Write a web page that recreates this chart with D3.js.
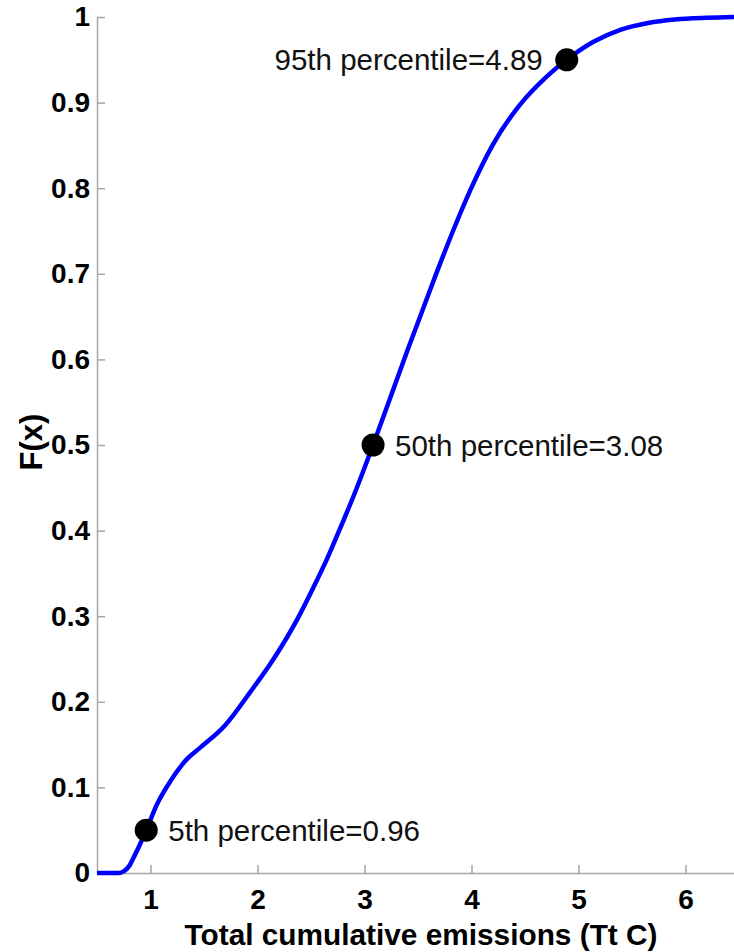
<!DOCTYPE html>
<html>
<head>
<meta charset="utf-8">
<script src="https://cdn.jsdelivr.net/npm/d3@7"></script>
<style>
  html, body { margin: 0; padding: 0; background: #fff; overflow: hidden; }
  svg { display: block; font-family: "Liberation Sans", Arial, Helvetica, sans-serif; }
</style>
</head>
<body>
<svg id="chart" width="734" height="952"></svg>
<script>
// Empirical CDF of total cumulative emissions (Tt C)
const emissions = [0.5, 0.7, 0.75, 0.8, 0.85, 0.9, 0.96, 1.06, 1.19, 1.34, 1.47, 1.7, 1.93, 2.15, 2.37, 2.52, 2.65, 2.77, 2.9, 3.08, 3.24, 3.4, 3.55, 3.71, 3.85, 3.99, 4.2, 4.45, 4.7, 4.89, 5.14, 5.39, 5.65, 5.9, 6.2, 6.5];
const cdf = [0, 0, 0.002, 0.008, 0.02, 0.033, 0.05, 0.08, 0.108, 0.133, 0.147, 0.173, 0.211, 0.25, 0.296, 0.333, 0.367, 0.402, 0.441, 0.5, 0.555, 0.61, 0.66, 0.713, 0.757, 0.798, 0.851, 0.897, 0.93, 0.95, 0.971, 0.985, 0.993, 0.997, 0.999, 1.0];

// Marked percentiles
const pctNames = ["5th", "50th", "95th"];
const pctLevels = [0.05, 0.5, 0.95];
const pctValues = [0.96, 3.08, 4.89];

// Axis ticks
const xTicks = [1, 2, 3, 4, 5, 6];
const yTicks = [0, 0.1, 0.2, 0.3, 0.4, 0.5, 0.6, 0.7, 0.8, 0.9, 1];
const yTickLabels = ["0", "0.1", "0.2", "0.3", "0.4", "0.5", "0.6", "0.7", "0.8", "0.9", "1"];

const svg = d3.select("#chart");
const plotLeft = 97, plotRight = 739, plotTop = 17, plotBottom = 873;

const x = d3.scaleLinear().domain([0.5, 6.5]).range([plotLeft, plotRight]);
const y = d3.scaleLinear().domain([0, 1]).range([plotBottom, plotTop]);

const axisColor = "#a6a6a6";

// Bottom axis (ticks pointing inward)
const gx = svg.append("g")
  .attr("transform", `translate(0,${plotBottom})`)
  .call(d3.axisBottom(x).tickValues(xTicks).tickSizeInner(-8).tickSizeOuter(0).tickPadding(17).tickFormat(d3.format("d")));
// Left axis (ticks pointing inward)
const gy = svg.append("g")
  .attr("transform", `translate(${plotLeft},0)`)
  .call(d3.axisLeft(y).tickValues(yTicks).tickSizeInner(-8).tickSizeOuter(0).tickPadding(7)
    .tickFormat((d, i) => yTickLabels[i]));

[gx, gy].forEach(g => {
  g.select(".domain").attr("stroke", axisColor).attr("stroke-width", 1.5);
  g.selectAll(".tick line").attr("stroke", axisColor).attr("stroke-width", 1.5);
  g.selectAll(".tick text")
    .attr("fill", "#000")
    .attr("font-size", 28)
    .attr("font-weight", "bold")
    .attr("font-family", "'Liberation Sans', Arial, Helvetica, sans-serif");
});
gx.selectAll(".tick text").attr("dy", "0.69em");

// CDF curve
const pts = emissions.map((e, i) => [e, cdf[i]]);
svg.append("path")
  .datum(pts)
  .attr("fill", "none")
  .attr("stroke", "#0000ff")
  .attr("stroke-width", 4.5)
  .attr("stroke-linejoin", "round")
  .attr("d", d3.line().x(d => x(d[0])).y(d => y(d[1])).curve(d3.curveMonotoneX));

// Percentile markers and labels
const marks = pctNames.map((n, i) => ({ name: n, level: pctLevels[i], value: pctValues[i] }));
svg.selectAll("circle.pct")
  .data(marks)
  .join("circle")
  .attr("class", "pct")
  .attr("cx", d => x(d.value))
  .attr("cy", d => y(d.level))
  .attr("r", 11.5)
  .attr("fill", "#000");

svg.selectAll("text.pct")
  .data(marks)
  .join("text")
  .attr("class", "pct")
  .attr("x", d => d.level > 0.9 ? x(d.value) - 24 : x(d.value) + 22)
  .attr("y", d => y(d.level))
  .attr("dy", "0.36em")
  .attr("text-anchor", d => d.level > 0.9 ? "end" : "start")
  .attr("font-size", 29.5)
  .attr("fill", "#111")
  .text(d => `${d.name} percentile=${d.value.toFixed(2)}`);

// Axis titles
svg.append("text")
  .attr("x", 421)
  .attr("y", 945)
  .attr("text-anchor", "middle")
  .attr("font-size", 29.8)
  .attr("font-weight", "bold")
  .text("Total cumulative emissions (Tt C)");

svg.append("text")
  .attr("transform", `translate(42,${(plotTop + plotBottom) / 2 - 3}) rotate(-90)`)
  .attr("text-anchor", "middle")
  .attr("font-size", 31)
  .attr("font-weight", "bold")
  .text("F(x)");
</script>
</body>
</html>
